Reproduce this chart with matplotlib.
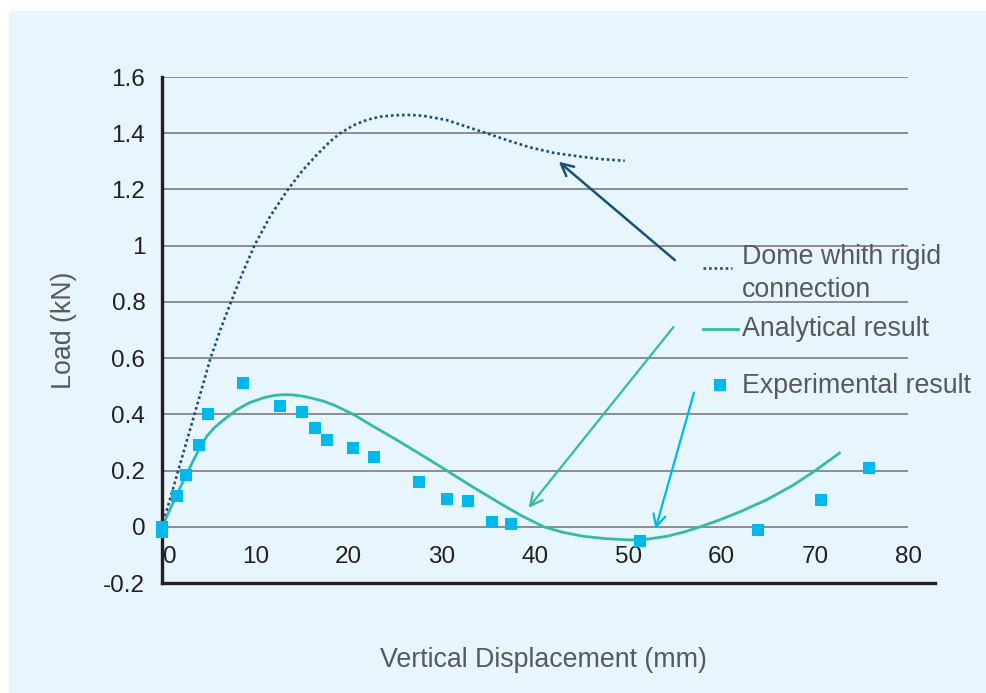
import matplotlib
matplotlib.use("Agg")
import matplotlib.pyplot as plt
from matplotlib.patches import Rectangle
from matplotlib.lines import Line2D

plt.rcParams['font.family'] = ['Liberation Sans', 'DejaVu Sans']

# ---------------- data ----------------
exp_x = [0, 0, 1.6, 2.6, 4.0, 4.9, 8.7, 12.6, 15.0, 16.4, 17.7, 20.5, 22.7,
         27.5, 30.5, 32.8, 35.4, 37.4, 51.2, 63.9, 70.6, 75.8]
exp_y = [0.0, -0.02, 0.11, 0.185, 0.29, 0.40, 0.51, 0.43, 0.41, 0.35, 0.31, 0.28, 0.25,
         0.16, 0.10, 0.09, 0.018, 0.01, -0.05, -0.01, 0.095, 0.21]

ana_x = [0, 1.0, 2.0, 2.7, 3.3, 4.0, 4.8, 5.6, 6.6, 8.0, 9.4, 11.0, 12.2, 13.2, 14.0,
         15.0, 16.0, 17.3, 18.5, 20.5, 22.5, 24.8, 27.0, 29.8, 33.0, 36.2, 38.5, 40.9,
         43.0, 45.2, 47.5, 50.2, 52.0, 54.1, 56.0, 57.7, 59.8, 62.0, 64.8, 67.5, 69.8, 72.6]
ana_y = [0, 0.072, 0.143, 0.19, 0.232, 0.277, 0.322, 0.352, 0.38, 0.416, 0.442, 0.46, 0.468,
         0.47, 0.469, 0.465, 0.458, 0.447, 0.432, 0.40, 0.36, 0.316, 0.272, 0.215, 0.148,
         0.084, 0.04, 0.0, -0.02, -0.034, -0.042, -0.047, -0.044, -0.034, -0.018, 0.0,
         0.025, 0.054, 0.096, 0.145, 0.195, 0.262]

dome_x = [0, 1.0, 2.0, 3.0, 4.0, 5.2, 6.3, 7.4, 8.6, 9.9, 11.6, 13.5, 15.0, 16.5, 18.0,
          19.1, 20.5, 22.0, 23.4, 25.0, 26.6, 28.0, 30.5, 32.5, 34.8, 37.0, 39.4, 42.0,
          44.8, 47.0, 49.6]
dome_y = [0, 0.115, 0.23, 0.345, 0.46, 0.60, 0.705, 0.80, 0.90, 1.0, 1.105, 1.20, 1.265,
          1.32, 1.37, 1.40, 1.428, 1.448, 1.459, 1.464, 1.465, 1.462, 1.447, 1.425, 1.40,
          1.375, 1.35, 1.33, 1.317, 1.308, 1.302]

y_ticks = [-0.2, 0, 0.2, 0.4, 0.6, 0.8, 1, 1.2, 1.4, 1.6]
y_tick_labels = ["-0.2", "0", "0.2", "0.4", "0.6", "0.8", "1", "1.2", "1.4", "1.6"]
x_ticks = [0, 10, 20, 30, 40, 50, 60, 70, 80]
x_tick_labels = ["0", "10", "20", "30", "40", "50", "60", "70", "80"]

legend_labels = ["Dome whith rigid\nconnection", "Analytical result", "Experimental result"]

# ---------------- styles ----------------
BG = '#E7F6FD'
NAVY = '#1A4F7A'
TEAL = '#33BBA6'
CYAN = '#00B9EC'
GRID = '#858585'
SPINE = '#231F20'
TXT = '#595959'
TICK_FS = 17.5
TITLE_FS = 19.3

W, H = 987, 693
fig = plt.figure(figsize=(W / 100, H / 100), dpi=100)
fig.patch.set_facecolor('white')
fig.add_artist(Rectangle((9 / W, 0), 1 - 9 / W + 0.01, 1 - 11 / H, transform=fig.transFigure,
                         facecolor=BG, edgecolor='none', zorder=0))

ax = fig.add_axes([162 / W, 1 - 583 / H, (935 - 162) / W, (583 - 77) / H])
ax.set_facecolor('none')
ax.set_xlim(0, 82.85)
ax.set_ylim(-0.2, 1.6)

for s in ['top', 'right']:
    ax.spines[s].set_visible(False)
for s in ['left', 'bottom']:
    ax.spines[s].set_color(SPINE)
    ax.spines[s].set_linewidth(2.4)
    ax.spines[s].set_zorder(5)

# gridlines only up to 80
for yv in y_ticks[1:]:
    ax.plot([0, 80], [yv, yv], color=GRID, lw=1.3, zorder=1, solid_capstyle='butt')

ax.set_yticks(y_ticks)
ax.set_yticklabels(y_tick_labels, fontsize=TICK_FS, color=SPINE)
ax.tick_params(axis='y', length=0, pad=12)
ax.set_xticks([])

for v, lab in zip(x_ticks, x_tick_labels):
    if v == 0:
        ax.text(v + 0.1, -0.107, lab, ha='left', va='center', fontsize=TICK_FS, color=SPINE)
    else:
        ax.text(v, -0.107, lab, ha='center', va='center', fontsize=TICK_FS, color=SPINE)

# series
ax.plot(dome_x, dome_y, color=NAVY, lw=1.9, linestyle=(0, (1, 1.1)), zorder=3)
ax.plot(ana_x, ana_y, color=TEAL, lw=2.0, zorder=3, solid_joinstyle='round')
ax.plot(exp_x, exp_y, linestyle='none', marker='s', markersize=8.2, color=CYAN,
        markeredgewidth=0, zorder=6, clip_on=False)

# arrows
ax.annotate('', xy=(42.3, 1.305), xytext=(55.2, 0.942),
            arrowprops=dict(arrowstyle='->', color=NAVY, lw=1.8, mutation_scale=22))
ax.annotate('', xy=(39.1, 0.060), xytext=(55.0, 0.718),
            arrowprops=dict(arrowstyle='->', color=TEAL, lw=1.6, mutation_scale=22))
ax.annotate('', xy=(52.8, -0.018), xytext=(57.1, 0.487),
            arrowprops=dict(arrowstyle='->', color=CYAN, lw=1.6, mutation_scale=22))

# axis titles
fig.text(64 / W, 1 - 330 / H, "Load (kN)", rotation=90, ha='center', va='center',
         fontsize=TITLE_FS, color=TXT)
fig.text(543 / W, 1 - 660 / H, "Vertical Displacement (mm)", ha='center', va='center',
         fontsize=TITLE_FS, color=TXT)

# legend (manual)
fig.add_artist(Line2D([703 / W, 732 / W], [1 - 268 / H, 1 - 268 / H], transform=fig.transFigure,
                      color=NAVY, lw=1.9, linestyle=(0, (1, 1.1))))
fig.add_artist(Line2D([703 / W, 738 / W], [1 - 329 / H, 1 - 329 / H], transform=fig.transFigure,
                      color=TEAL, lw=2.0))
fig.add_artist(Line2D([720 / W], [1 - 385 / H], transform=fig.transFigure, linestyle='none',
                      marker='s', markersize=8.2, color=CYAN, markeredgewidth=0))
fig.text(742 / W, 1 - 273.5 / H, legend_labels[0], ha='left', va='center', fontsize=TITLE_FS,
         color=TXT, linespacing=1.38)
fig.text(742 / W, 1 - 329 / H, legend_labels[1], ha='left', va='center', fontsize=TITLE_FS, color=TXT)
fig.text(742 / W, 1 - 386 / H, legend_labels[2], ha='left', va='center', fontsize=TITLE_FS, color=TXT)

fig.savefig('out.png', dpi=100, facecolor=fig.get_facecolor())
